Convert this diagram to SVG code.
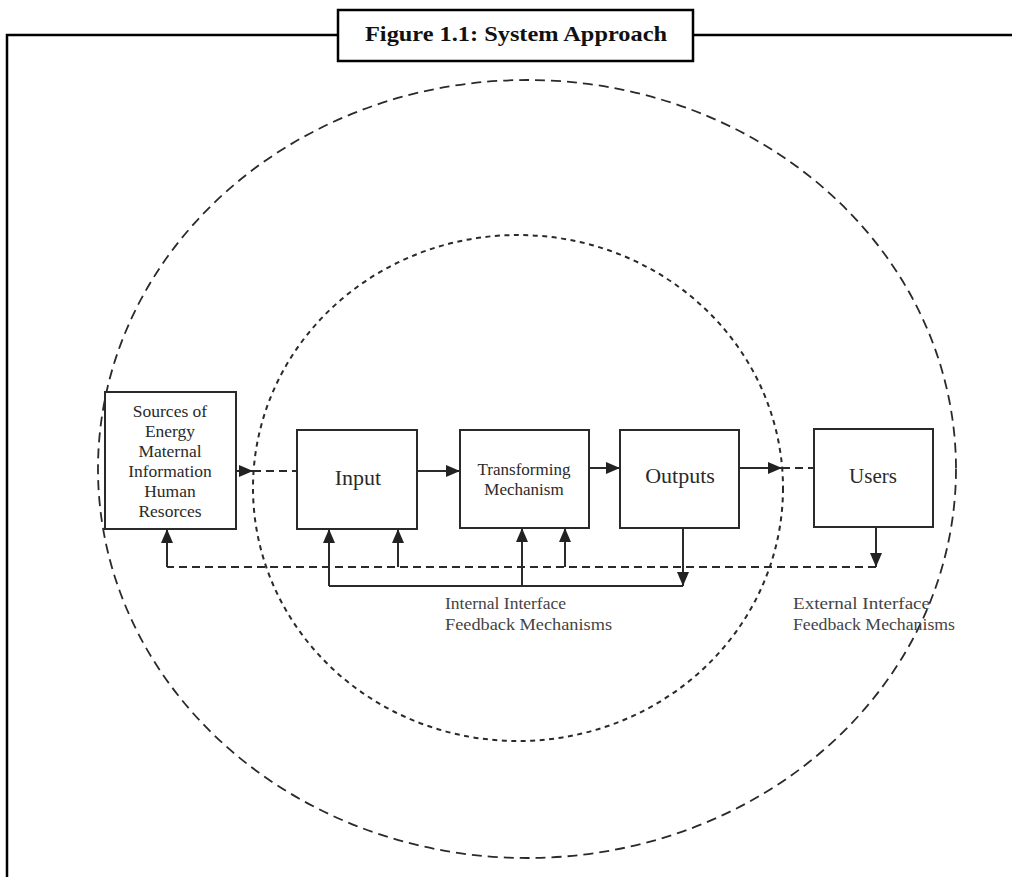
<svg xmlns="http://www.w3.org/2000/svg" width="1012" height="877" viewBox="0 0 1012 877">
<style>
.frame{fill:none;stroke:#000;stroke-width:2.5}
.box{fill:#fff;stroke:#2a2a2a;stroke-width:2}
.t{font-family:"Liberation Serif","Times New Roman",serif;fill:#2a2a2a;text-anchor:middle}
.lbl{font-family:"Liberation Serif","Times New Roman",serif;fill:#444;font-size:16px}
.solid{fill:none;stroke:#2a2a2a;stroke-width:2}
.dash{fill:none;stroke:#2a2a2a;stroke-width:2;stroke-dasharray:8 5}
.outer{fill:none;stroke:#2a2a2a;stroke-width:1.8;stroke-dasharray:10 6}
.inner{fill:none;stroke:#2a2a2a;stroke-width:2;stroke-dasharray:5 4.5}
</style>
<defs>
<marker id="ah" markerUnits="userSpaceOnUse" markerWidth="14" markerHeight="12" viewBox="0 0 14 12" refX="14" refY="6" orient="auto">
<path d="M0,0 L14,6 L0,12 Z" fill="#222"/>
</marker>
</defs>
<rect width="1012" height="877" fill="#fff"/>
<g id="frame">
<path class="frame" d="M7,877 V35 H338 M693,35 H1012"/>
<rect x="338" y="10" width="355" height="51" fill="#fff" stroke="#000" stroke-width="2.5"/>
<text x="516" y="41" font-family="'Liberation Serif','Times New Roman',serif" font-weight="bold" font-size="22" fill="#111" text-anchor="middle" textLength="302" lengthAdjust="spacingAndGlyphs">Figure 1.1: System Approach</text>
</g>
<g id="boundaries">
<ellipse class="outer" cx="527" cy="469" rx="429" ry="389"/>
<ellipse class="inner" cx="518" cy="488" rx="265" ry="253"/>
</g>
<g id="connectors">
<path class="solid" d="M236,471 H253" marker-end="url(#ah)"/>
<path class="dash" d="M253,471 H297"/>
<path class="solid" d="M417,471 H460" marker-end="url(#ah)"/>
<path class="solid" d="M589,468 H620" marker-end="url(#ah)"/>
<path class="solid" d="M739,468 H782" marker-end="url(#ah)"/>
<path class="dash" d="M782,468 H814"/>
<path class="solid" d="M876,527 V567" marker-end="url(#ah)"/>
<path class="dash" d="M876,567 H167"/>
<path class="solid" d="M167,567 V529" marker-end="url(#ah)"/>
<path class="solid" d="M398,567 V529" marker-end="url(#ah)"/>
<path class="solid" d="M565,567 V528" marker-end="url(#ah)"/>
<path class="solid" d="M683,528 V586" marker-end="url(#ah)"/>
<path class="solid" d="M683,586 H329"/>
<path class="solid" d="M329,586 V529" marker-end="url(#ah)"/>
<path class="solid" d="M522,586 V528" marker-end="url(#ah)"/>
</g>
<g id="sources">
<rect class="box" x="105" y="392" width="131" height="137"/>
<text class="t" font-size="17.5"><tspan x="170" y="417">Sources of</tspan><tspan x="170" y="437">Energy</tspan><tspan x="170" y="457">Maternal</tspan><tspan x="170" y="477">Information</tspan><tspan x="170" y="497">Human</tspan><tspan x="170" y="517">Resorces</tspan></text>
</g>
<g id="input">
<rect class="box" x="297" y="430" width="120" height="99"/>
<text class="t" x="358" y="485" font-size="22">Input</text>
</g>
<g id="transforming">
<rect class="box" x="460" y="430" width="129" height="98"/>
<text class="t" font-size="17" fill="#444"><tspan x="524" y="475">Transforming</tspan><tspan x="524" y="495">Mechanism</tspan></text>
</g>
<g id="outputs">
<rect class="box" x="620" y="430" width="119" height="98"/>
<text class="t" x="680" y="483" font-size="22">Outputs</text>
</g>
<g id="users">
<rect class="box" x="814" y="429" width="119" height="98"/>
<text class="t" x="873" y="483" font-size="21" fill="#444">Users</text>
</g>
<g id="labels">
<text class="lbl"><tspan x="445" y="609" textLength="121" lengthAdjust="spacingAndGlyphs">Internal Interface</tspan><tspan x="445" y="630" textLength="167" lengthAdjust="spacingAndGlyphs">Feedback Mechanisms</tspan></text>
<text class="lbl"><tspan x="793" y="609" textLength="137" lengthAdjust="spacingAndGlyphs">External Interface</tspan><tspan x="793" y="630" textLength="162" lengthAdjust="spacingAndGlyphs">Feedback Mechanisms</tspan></text>
</g>
</svg>
